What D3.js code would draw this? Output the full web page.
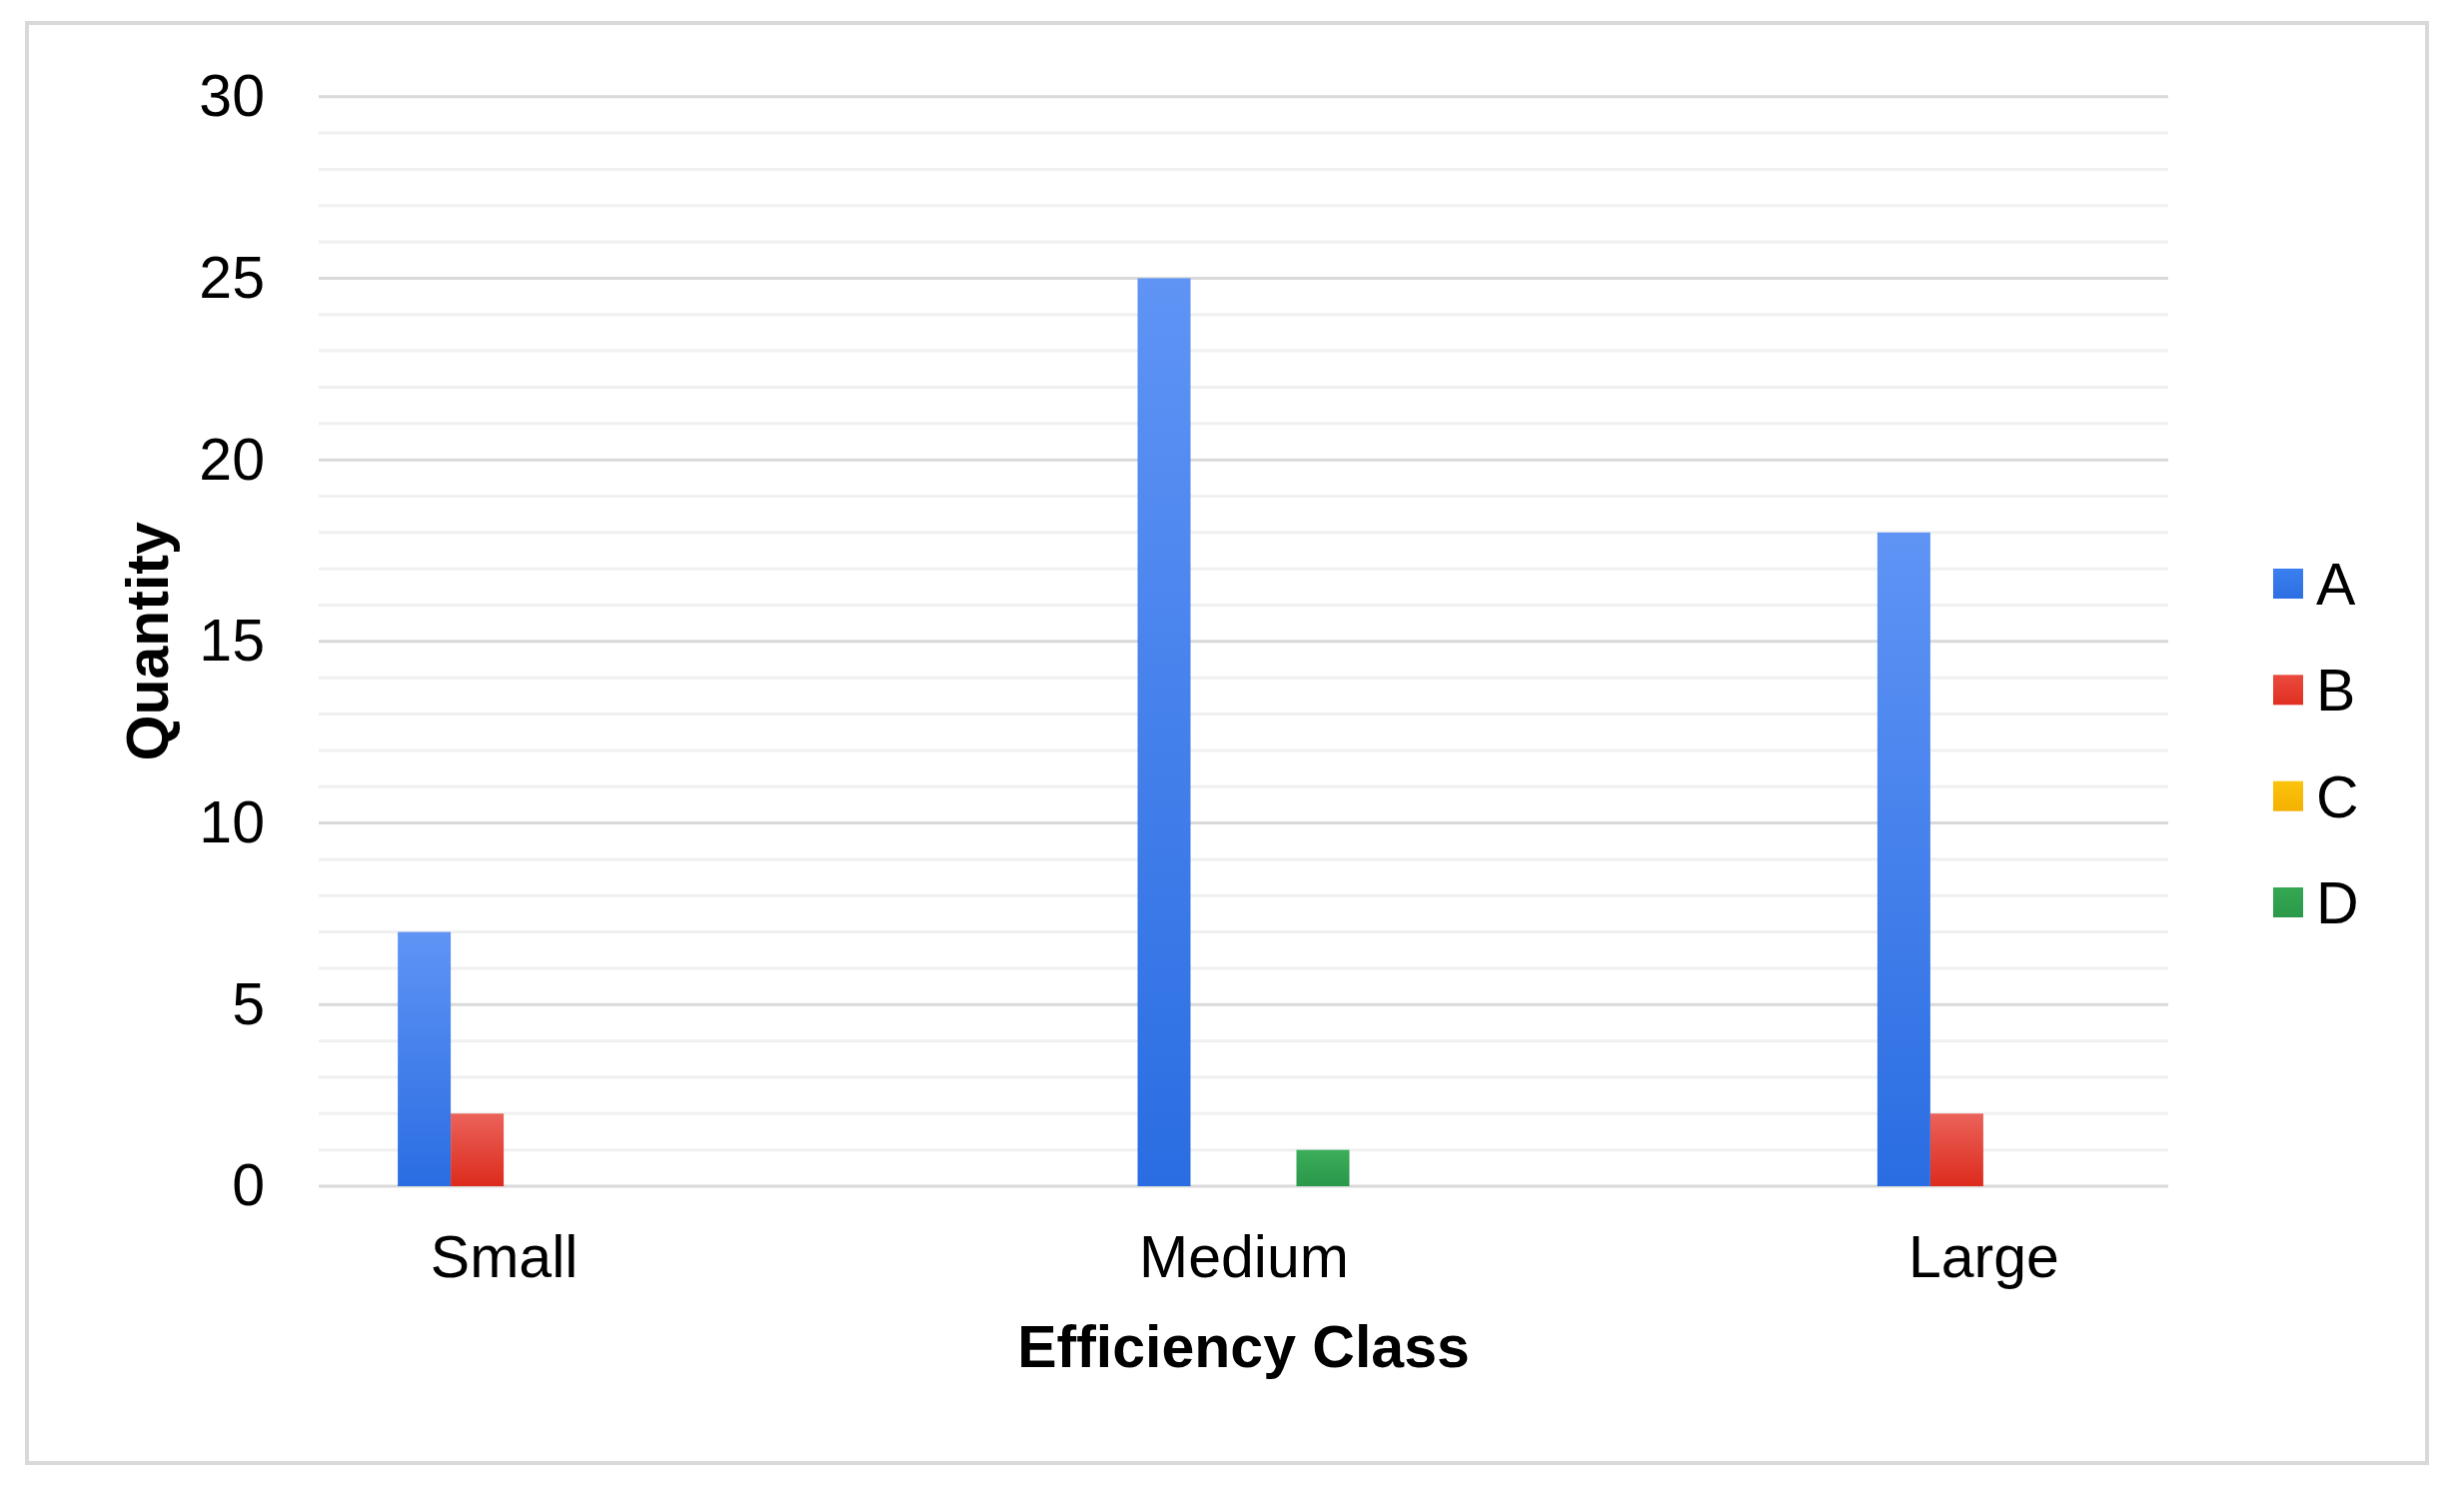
<!DOCTYPE html>
<html>
<head>
<meta charset="utf-8">
<script src="https://cdn.jsdelivr.net/npm/d3@7"></script>
<style>
  html, body { margin: 0; padding: 0; background: #fff; }
  svg { display: block; }
  text { font-family: "Liberation Sans", Arial, sans-serif; fill: #000; }
</style>
</head>
<body>
<svg id="chart" width="2466" height="1506"></svg>
<script>
// ---- data ----
const categories = ["Small", "Medium", "Large"];
const seriesNames = ["A", "B", "C", "D"];
const valuesA = [7, 25, 18];
const valuesB = [2, 0, 2];
const valuesC = [0, 0, 0];
const valuesD = [0, 1, 0];
const yTicks = [0, 5, 10, 15, 20, 25, 30];
const xTitle = "Efficiency Class";
const yTitle = "Quantity";

const seriesValues = [valuesA, valuesB, valuesC, valuesD];
const colorsTop = ["#5f94f5", "#eb6259", "#fcc40e", "#3cae5a"];
const colorsBottom = ["#2a6de2", "#dc2b1d", "#f4ae00", "#29984a"];
const legendColorsTop = ["#3a7ff0", "#eb4a3e", "#fcc40e", "#35a853"];
const legendColorsBottom = ["#2c6fe2", "#df3021", "#f4b000", "#2a9a4a"];

// ---- layout ----
const svg = d3.select("#chart");
const plotLeft = 319, plotRight = 2170, plotTop = 96.7, plotBottom = 1187;
const barW = 53;

const x0 = d3.scalePoint().domain(categories).range([plotLeft, plotRight]).padding(0.25);
const x1 = d3.scaleBand().domain(seriesNames).range([-2 * barW, 2 * barW]).padding(0);
const y = d3.scaleLinear().domain([0, 30]).range([plotBottom, plotTop]);

// frame
svg.append("rect")
  .attr("x", 27).attr("y", 23).attr("width", 2402).attr("height", 1441)
  .attr("fill", "none").attr("stroke", "#d9d9d9").attr("stroke-width", 4);

// gradients
const defs = svg.append("defs");
seriesNames.forEach((s, i) => {
  const g = defs.append("linearGradient").attr("id", "grad" + s)
    .attr("x1", 0).attr("y1", 0).attr("x2", 0).attr("y2", 1);
  g.append("stop").attr("offset", "0%").attr("stop-color", colorsTop[i]);
  g.append("stop").attr("offset", "100%").attr("stop-color", colorsBottom[i]);
  const lg = defs.append("linearGradient").attr("id", "lgrad" + s)
    .attr("x1", 0).attr("y1", 0).attr("x2", 0).attr("y2", 1);
  lg.append("stop").attr("offset", "0%").attr("stop-color", legendColorsTop[i]);
  lg.append("stop").attr("offset", "100%").attr("stop-color", legendColorsBottom[i]);
});

// gridlines (minor every 1, major every 5)
const gridVals = d3.range(0, 31, 1);
svg.append("g").selectAll("line").data(gridVals.filter(v => v % 5 !== 0)).join("line")
  .attr("x1", plotLeft).attr("x2", plotRight)
  .attr("y1", d => y(d)).attr("y2", d => y(d))
  .attr("stroke", "#f0f0f0").attr("stroke-width", 3);
svg.append("g").selectAll("line").data(yTicks).join("line")
  .attr("x1", plotLeft).attr("x2", plotRight)
  .attr("y1", d => y(d)).attr("y2", d => y(d))
  .attr("stroke", "#d9d9d9").attr("stroke-width", 3);

// y axis labels
const yAxis = d3.axisLeft(y).tickValues(yTicks).tickSize(0).tickPadding(0);
const yg = svg.append("g").attr("transform", `translate(${plotLeft - 54},0)`).call(yAxis);
yg.select(".domain").remove();
yg.selectAll("text")
  .attr("font-size", 59)
  .attr("font-family", "'Liberation Sans', Arial, sans-serif")
  .attr("fill", "#000");

// x axis labels
const xAxis = d3.axisBottom(x0).tickSize(0).tickPadding(0);
const xg = svg.append("g").attr("transform", `translate(0,${plotBottom})`).call(xAxis);
xg.select(".domain").remove();
xg.selectAll("text")
  .attr("font-size", 59)
  .attr("font-family", "'Liberation Sans', Arial, sans-serif")
  .attr("fill", "#000")
  .attr("dy", null)
  .attr("y", 91);

// bars
const barData = [];
categories.forEach((c, ci) => {
  seriesNames.forEach((s, si) => {
    barData.push({ cat: c, series: s, value: seriesValues[si][ci] });
  });
});
svg.append("g").selectAll("rect").data(barData.filter(d => d.value > 0)).join("rect")
  .attr("x", d => x0(d.cat) + x1(d.series))
  .attr("width", x1.bandwidth())
  .attr("y", d => y(d.value))
  .attr("height", d => y(0) - y(d.value))
  .attr("fill", d => `url(#grad${d.series})`);

// axis titles
svg.append("text")
  .attr("x", x0("Medium")).attr("y", 1368)
  .attr("text-anchor", "middle")
  .attr("font-size", 59).attr("font-weight", "bold")
  .text(xTitle);
svg.append("text")
  .attr("transform", `translate(168,${(plotTop + plotBottom) / 2}) rotate(-90)`)
  .attr("text-anchor", "middle")
  .attr("font-size", 59).attr("font-weight", "bold")
  .text(yTitle);

// legend
const legendY = d3.scalePoint().domain(seriesNames).range([584, 903]);
const lg = svg.append("g");
seriesNames.forEach((s) => {
  lg.append("rect")
    .attr("x", 2275).attr("y", legendY(s) - 15)
    .attr("width", 30).attr("height", 30)
    .attr("fill", `url(#lgrad${s})`);
  lg.append("text")
    .attr("x", 2318).attr("y", legendY(s) + 21)
    .attr("font-size", 59)
    .text(s);
});
</script>
</body>
</html>
